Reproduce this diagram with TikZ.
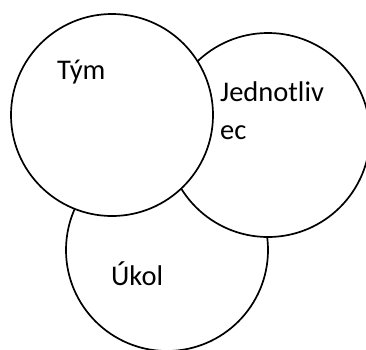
\documentclass[tikz,border=0pt]{standalone}
\usepackage{fontspec}
\setmainfont{Carlito}
\begin{document}
\begin{tikzpicture}[x=1pt,y=-1pt,
  ring/.style={draw=black,fill=white,line width=1.7pt},
  lbl/.style={anchor=base west,inner sep=0pt,font=\fontsize{28.5}{38}\selectfont}]
\useasboundingbox (0,0) rectangle (366,349);
\begin{scope}
\clip (0,0) rectangle (366,349);
\draw[ring] (167,250) circle[radius=101] coordinate (ukol);
\draw[ring] (268,135) circle[radius=102] coordinate (jed);
\draw[ring] (112,115) circle[radius=101] coordinate (tym);
\end{scope}
\node[lbl] (t1) at (57,79) {Tým};
\node[lbl] (t2) at (220,101) {Jednotliv};
\node[lbl] (t3) at (220,139) {ec};
\node[lbl] (t4) at (111,285) {Úkol};
\end{tikzpicture}
\end{document}
